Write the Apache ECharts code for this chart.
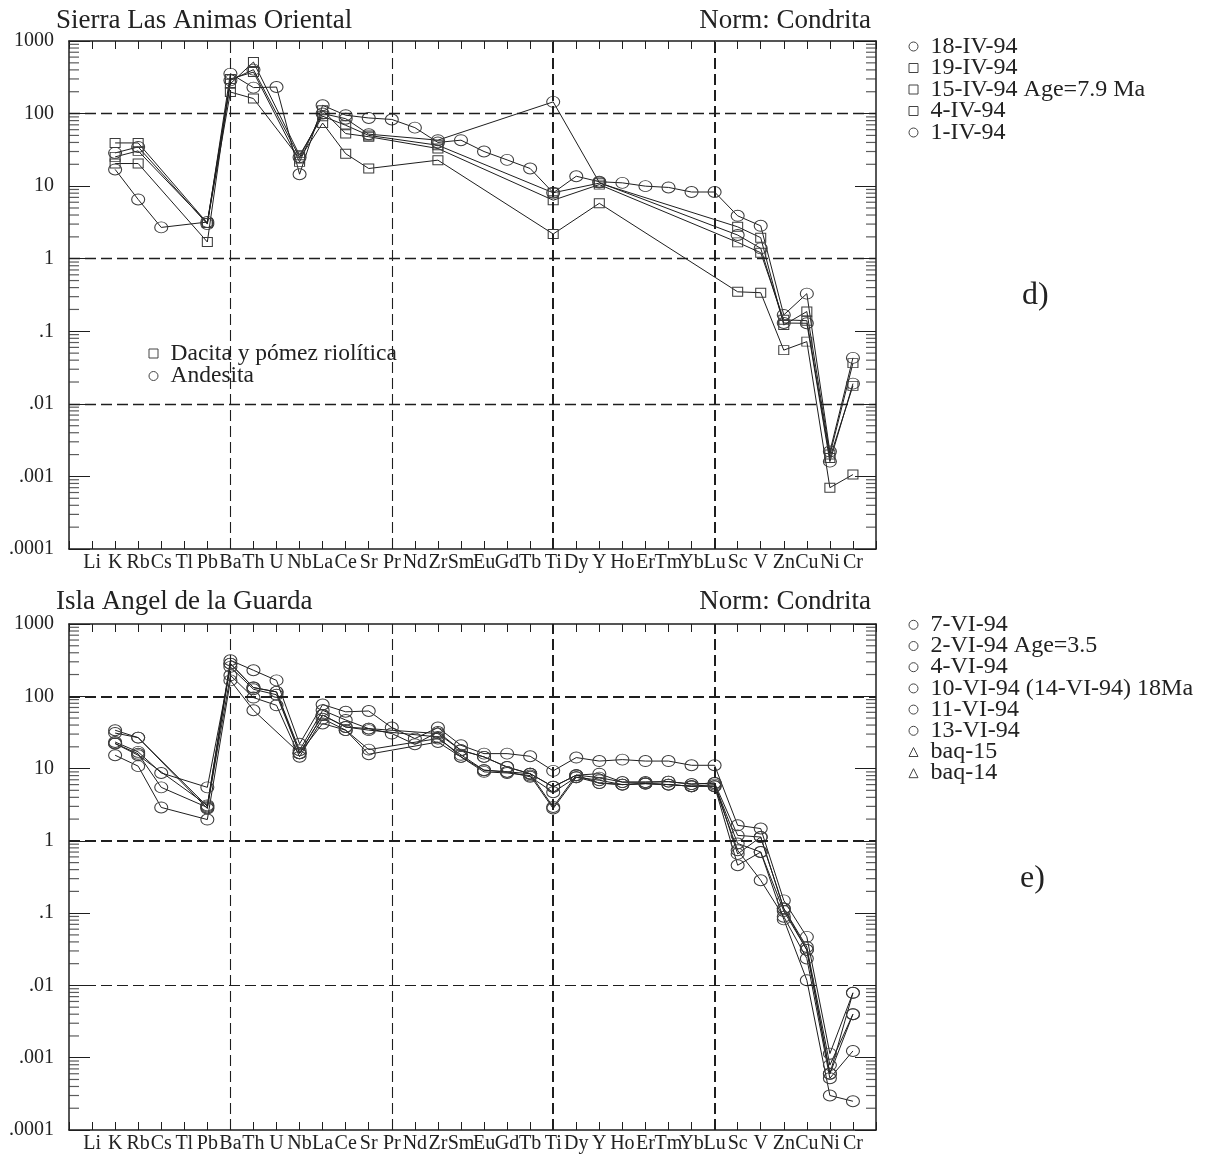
<!DOCTYPE html>
<html><head><meta charset="utf-8">
<script src="https://cdn.jsdelivr.net/npm/echarts@6/dist/echarts.min.js"></script>
<style>html,body{margin:0;padding:0;background:#fff}#c{width:1205px;height:1155px}</style>
</head><body><div id="c"></div>
<script>
// ---------- categories and tick labels ----------
const elements = ['Li','K','Rb','Cs','Tl','Pb','Ba','Th','U','Nb','La','Ce','Sr','Pr','Nd','Zr','Sm','Eu','Gd','Tb','Ti','Dy','Y','Ho','Er','Tm','Yb','Lu','Sc','V','Zn','Cu','Ni','Cr'];
const yTickLabels = ['.0001','.001','.01','.1','1','10','100','1000'];
const minorMantissas = [2,3,4,5,6,7,8,9];
const decadeExps = [-4,-3,-2,-1,0,1,2];

// ---------- panel d) Sierra Las Animas Oriental ----------
//            Li    K     Rb    Cs    Tl    Pb
const s18IV94 = [null, 28.7, 34.7, null, null, 3.0,
  355, 228, 232, 14.6, 130, 95, 87,            // Ba Th U Nb La Ce Sr
  83, 64, 40, 43, 30, 23, 17.5,                // Pr Nd Zr Sm Eu Gd Tb
  8.1, 13.7, 11.5, 11.1, 10, 9.6, 8.3, 8.3,    // Ti Dy Y Ho Er Tm Yb Lu
  3.9, 2.84, 0.168, 0.33, 0.0022, 0.043];      // Sc V Zn Cu Ni Cr
const s19IV94 = [null, 39.4, 39.4, null, null, 3.1,
  198, 161, null, 24, 74, 28, 17.5,
  null, null, 22.8, null, null, null, null,
  2.19, null, 5.8, null, null, null, null, null,
  0.35, 0.34, 0.055, 0.072, 0.0007, 0.00106];
const s15IV94 = [null, 25.3, 30.6, null, null, 3.1,
  258, 513, null, 26.7, 92, 69, 50,
  null, null, 36.6, null, null, null, null,
  8.1, null, 11, null, null, null, null, null,
  2.75, 1.95, 0.122, 0.187, 0.002, 0.0364];
const s4IV94 = [null, 20.5, 20.5, null, null, 1.7,
  300, 373, null, 21.6, 111, 53, 48,
  null, null, 33, null, null, null, null,
  6.4, null, 10.5, null, null, null, null, null,
  1.68, 1.21, 0.144, 0.14, 0.0018, 0.0177];
const s1IV94 = [null, 17, 6.56, 2.7, null, 3.2,
  287, 403, null, 25, 100, 85, 52,
  null, null, 43, null, null, null, null,
  145, null, 11.2, null, null, null, null, null,
  2.12, 1.39, 0.13, 0.129, 0.0016, 0.019];

// ---------- panel e) Isla Angel de la Guarda ----------
const b7VI94 = [null, 33.9, 26.8, null, null, 3.0,
  315, 229, 166, 22, 77, 61, 62.6,
  36.9, 26, 36.9, 21, 16.1, 16.1, 14.8,
  9.3, 14.2, 12.7, 13.3, 12.7, 12.7, 11.1, 11.1,
  1.64, 1.48, 0.15, 0.047, 0.00114, 0.0079];
const b2VI94 = [null, 31, 26.8, null, null, 2.8,
  283, 132, 115, 17.9, 64, 47, 35.7,
  30.5, 21.7, 32, 17.9, 14.5, 10.5, 8.5,
  5.6, 8.1, 8.5, 6.5, 6.5, 6.6, 6.1, 6.3,
  1.19, 1.13, 0.116, 0.034, 0.00079, 0.004];
const b4VI94 = [null, 23.3, 17, 8.7, null, 5.5,
  255, 125, 105, 16.3, 55, 37.6, 34,
  null, null, 27.4, 14.5, 9.5, 9, 7.7,
  4.7, 7.6, 6.9, 6.0, 6.2, 6.0, 5.7, 6.0,
  0.92, 0.70, 0.107, 0.031, 0.0006, 0.0079];
const b10VI94 = [null, 22.2, 16, 5.5, null, 2.9,
  195, 96, 75, 14.6, 49, 34, 18.3,
  null, null, 26, 15.5, 9.5, 9, 8.5,
  2.94, 8.1, 6.3, 6.0, 6.2, 6.0, 5.7, 5.7,
  0.74, 0.285, 0.089, 0.0236, 0.00052, 0.00124];
const b11VI94 = [null, 15.3, 10.8, 2.9, null, 1.97,
  166, 64, null, 16.3, 42, 34, 15.8,
  null, null, 23.3, 14.5, 9.0, 8.7, 8.0,
  2.8, 7.6, 6.3, 6.0, 6.2, 6.0, 5.7, 5.7,
  0.46, 0.70, 0.082, 0.0118, 0.0003, 0.00025];
const b13VI94 = [null, 22.2, 15.3, null, null, 3.1,
  283, 132, 115, 16.3, 55, 37.6, 35.7,
  null, null, 30.5, 17.9, 14.5, 10.5, 8.5,
  5.6, 8.1, 7.5, 6.5, 6.5, 6.6, 6.1, 6.3,
  0.66, 1.13, 0.116, 0.031, 0.0006, 0.004];

const topNames = ['18-IV-94','19-IV-94','15-IV-94 Age=7.9 Ma','4-IV-94','1-IV-94'];
const topSeries = [s18IV94, s19IV94, s15IV94, s4IV94, s1IV94];
const topSymbols = ['circle','rect','rect','rect','circle'];
const botNames = ['7-VI-94','2-VI-94 Age=3.5','4-VI-94','10-VI-94 (14-VI-94) 18Ma','11-VI-94','13-VI-94','baq-15','baq-14'];
const botSeries = [b7VI94, b2VI94, b4VI94, b10VI94, b11VI94, b13VI94, [], []];
const botSymbols = ['circle','circle','circle','circle','circle','circle','triangle','triangle'];
const keyNames = ['Dacita y pómez riolítica','Andesita'];
const keySymbols = ['rect','circle'];

// ---------- rendering ----------
const FONT = 'Liberation Serif';
const INK = '#1e1e1e';
const ELLIPSE = 'path://M1,0C1,0.552,0.552,1,0,1C-0.552,1,-1,0.552,-1,0C-1,-0.552,-0.552,-1,0,-1C0.552,-1,1,-0.552,1,0Z';
const minorTickVals = [];
decadeExps.forEach(e => minorMantissas.forEach(m => minorTickVals.push(m * Math.pow(10, e))));

function toData(arr) { const d = []; arr.forEach((v, i) => { if (v != null) d.push([i, v]); }); return d; }
function symFor(s) { return s === 'circle' ? ELLIPSE : s; }
function sizeFor(s) { return s === 'circle' ? [13, 11] : [10, 9]; }

function dataSeries(name, arr, sym, g) {
  return {
    type: 'line', name, xAxisIndex: g * 2, yAxisIndex: g * 2,
    data: toData(arr), symbol: symFor(sym), symbolSize: sizeFor(sym),
    showSymbol: true, showAllSymbol: true, clip: false,
    lineStyle: { color: INK, width: 1 },
    itemStyle: { color: 'transparent', borderColor: '#3c3c3c', borderWidth: 1 },
    emphasis: { disabled: true }, silent: true, animation: false, z: 3
  };
}
function dashY(v, w) { return { yAxis: v, lineStyle: { type: [11, 5], width: w, color: INK } }; }
function dashX(v, w) { return { xAxis: v, lineStyle: { type: [11, 5], width: w, color: INK } }; }
function tickSeries(g, side, marks) {
  const s = {
    type: 'scatter', xAxisIndex: g * 2, yAxisIndex: g * 2,
    data: minorTickVals.map(v => [side === 'left' ? -1 : 34, v]),
    symbol: 'rect', symbolSize: [10, 1.2], symbolOffset: [side === 'left' ? 5 : -5, 0],
    itemStyle: { color: '#333' }, silent: true, animation: false, clip: false, z: 4,
    emphasis: { disabled: true }
  };
  if (marks) {
    s.markLine = { symbol: ['none', 'none'], silent: true, animation: false, label: { show: false },
      emphasis: { disabled: true }, data: marks };
  }
  return s;
}

const xAxes = [], yAxes = [];
[0, 1].forEach(g => {
  const axLine = { show: true, onZero: false, lineStyle: { color: INK, width: 1.5 } };
  xAxes.push({ type: 'value', gridIndex: g, position: 'bottom', min: -1, max: 34, interval: 1,
    axisLine: axLine, splitLine: { show: false },
    axisTick: { inside: true, length: 8, lineStyle: { color: INK, width: 1 } },
    axisLabel: { margin: 4, fontFamily: FONT, fontSize: 20, color: '#222',
      formatter: v => (Number.isInteger(v) && elements[v]) ? elements[v] : '' } });
  xAxes.push({ type: 'value', gridIndex: g, position: 'top', min: -1, max: 34, interval: 1,
    axisLine: axLine, splitLine: { show: false },
    axisTick: { inside: true, length: 8, lineStyle: { color: INK, width: 1 } },
    axisLabel: { show: false } });
  yAxes.push({ type: 'log', logBase: 10, gridIndex: g, position: 'left', min: 0.0001, max: 1000,
    axisLine: axLine, splitLine: { show: false },
    axisTick: { inside: true, length: 21, lineStyle: { color: INK, width: 1 } },
    axisLabel: { margin: 15, fontFamily: FONT, fontSize: 20, color: '#222', showMinLabel: true, showMaxLabel: true,
      formatter: v => yTickLabels[Math.round(Math.log10(v)) + 4] || '' } });
  yAxes.push({ type: 'log', logBase: 10, gridIndex: g, position: 'right', min: 0.0001, max: 1000,
    axisLine: axLine, splitLine: { show: false },
    axisTick: { inside: true, length: 21, lineStyle: { color: INK, width: 1 } },
    axisLabel: { show: false } });
});

const series = [];
series.push(tickSeries(0, 'left', [dashY(100, 1.3), dashY(1, 1.3), dashY(0.01, 1.3),
  dashX(6, 1.1), dashX(13, 1.1), dashX(20, 2), dashX(27, 2)]));
series.push(tickSeries(0, 'right'));
series.push(tickSeries(1, 'left', [dashY(100, 2), dashY(1, 2), dashY(0.01, 1.2),
  dashX(6, 1.1), dashX(13, 1.1), dashX(20, 2), dashX(27, 2)]));
series.push(tickSeries(1, 'right'));
topNames.forEach((n, i) => series.push(dataSeries(n, topSeries[i], topSymbols[i], 0)));
botNames.forEach((n, i) => series.push(dataSeries(n, botSeries[i], botSymbols[i], 1)));
keyNames.forEach((n, i) => series.push(dataSeries(n, [], keySymbols[i], 0)));

function legendOf(names, icons, left, top, gap, pad, fs) {
  return {
    orient: 'vertical', left, top, padding: 0, itemGap: gap, itemWidth: 9, itemHeight: 9, selectedMode: false,
    data: names.map((n, i) => ({ name: n, icon: icons[i] })),
    itemStyle: { color: 'transparent', borderColor: '#444', borderWidth: 1 },
    textStyle: { fontFamily: FONT, fontSize: fs, color: '#222', lineHeight: 21, padding: [0, 0, 0, pad] }
  };
}

const option = {
  backgroundColor: '#fff',
  animation: false,
  grid: [
    { left: 69, top: 41, width: 807, height: 508 },
    { left: 69, top: 624, width: 807, height: 506 }
  ],
  xAxis: xAxes, yAxis: yAxes, series,
  legend: [
    legendOf(topNames, topSymbols, 908.5, 34.5, -2.5, 7.5, 24),
    legendOf(botNames, botSymbols, 908.5, 612.8, -2.8, 7.5, 24),
    legendOf(keyNames, keySymbols, 148.5, 341.5, -1.5, 7.5, 23.5)
  ],
  graphic: [
    { type: 'text', left: 56, top: 7, style: { text: 'Sierra Las Animas Oriental', font: '27px "Liberation Serif"', fill: '#222' } },
    { type: 'text', right: 334, top: 7, style: { text: 'Norm: Condrita', font: '27px "Liberation Serif"', fill: '#222' } },
    { type: 'text', left: 56, top: 588, style: { text: 'Isla Angel de la Guarda', font: '27px "Liberation Serif"', fill: '#222' } },
    { type: 'text', right: 334, top: 588, style: { text: 'Norm: Condrita', font: '27px "Liberation Serif"', fill: '#222' } },
    { type: 'text', left: 1022, top: 280, style: { text: 'd)', font: '32px "Liberation Serif"', fill: '#222' } },
    { type: 'text', left: 1020, top: 863, style: { text: 'e)', font: '32px "Liberation Serif"', fill: '#222' } }
  ]
};
const chart = echarts.init(document.getElementById('c'), null, { renderer: 'canvas' });
chart.setOption(option);
</script>
</body></html>
